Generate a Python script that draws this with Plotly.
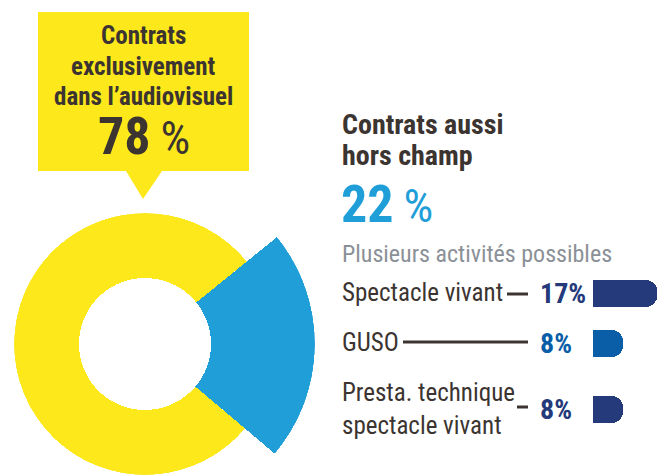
import math
import plotly.graph_objects as go

# ---- data ----
share_labels = ["Contrats exclusivement dans l’audiovisuel", "Contrats aussi hors champ"]
share_values = [78, 22]
activity_labels = ["Spectacle vivant", "GUSO", "Presta. technique<br>spectacle vivant"]
activity_values = [17, 8, 8]

# ---- styles ----
W, H = 658, 475
YELLOW = "#FCE81B"
BLUE = "#1F9ED8"
DARK = "#3B3431"
GREY = "#8B9097"
NAVY = "#243A7B"
MID_BLUE = "#0A5EA8"
activity_colors = [NAVY, MID_BLUE, NAVY]
FONT = "Roboto Condensed, Open Sans Condensed, Roboto, sans-serif"


def px(x):
    return x / W


def py(y):
    return 1 - y / H


# donut geometry (pixels)
cx, cy = 145, 344
r_in = 66
r_out_main = 131
r_out_blue = 170
start_deg = 39  # upper edge of the blue slice

w_blue = share_values[1] / sum(share_values) * 360
w_yel = share_values[0] / sum(share_values) * 360
theta_blue = start_deg - w_blue / 2
theta_yel = start_deg + w_yel / 2

fig = go.Figure()

fig.add_trace(go.Barpolar(
    r=[r_out_main - r_in], base=[r_in], theta=[theta_yel], width=[w_yel],
    marker=dict(color=YELLOW, line=dict(width=0)), subplot="polar",
    name=share_labels[0], hoverinfo="skip"))

fig.add_trace(go.Barpolar(
    r=[r_out_blue - r_in], base=[r_in], theta=[theta_blue], width=[w_blue],
    marker=dict(color=BLUE, line=dict(width=0)), subplot="polar2",
    name=share_labels[1], hoverinfo="skip"))

# horizontal bars (y axis is in page pixels)
row_y = [293.5, 343.5, 409.5]
fig.add_trace(go.Bar(
    x=activity_values, y=row_y, orientation="h", width=27,
    marker=dict(color=activity_colors, line=dict(width=0), cornerradius="48%"),
    hoverinfo="skip"))

half = 42
sect_h = 2 * math.sin(math.radians(half)) * r_out_blue

hidden_radial = dict(visible=False, showgrid=False, showline=False, showticklabels=False, ticks="")
hidden_ang = dict(visible=False, showgrid=False, showline=False, showticklabels=False, ticks="",
                  direction="counterclockwise", rotation=0)

fig.update_layout(
    width=W, height=H, margin=dict(l=0, r=0, t=0, b=0, autoexpand=False),
    paper_bgcolor="white", plot_bgcolor="rgba(0,0,0,0)", showlegend=False,
    polar=dict(domain=dict(x=[px(cx - r_out_main), px(cx + r_out_main)],
                           y=[py(cy + r_out_main), py(cy - r_out_main)]),
               bgcolor="rgba(0,0,0,0)",
               radialaxis=dict(range=[0, r_out_main], **hidden_radial),
               angularaxis=hidden_ang),
    polar2=dict(domain=dict(x=[px(cx), px(cx + r_out_blue)],
                            y=[py(cy + sect_h / 2), py(cy - sect_h / 2)]),
                sector=[-half, half],
                bgcolor="rgba(0,0,0,0)",
                radialaxis=dict(range=[0, r_out_blue], **hidden_radial),
                angularaxis=hidden_ang),
    xaxis=dict(domain=[px(593), 1], range=[0, 17.15], visible=False, fixedrange=True),
    yaxis=dict(domain=[0, 1], range=[H, 0], visible=False, fixedrange=True),
    bargap=0,
)

# callout box
x0, x1, y0, y1 = 38, 249, 12, 171
tip = (143, 199)
path = (f"M {px(x0)},{py(y0)} L {px(x1)},{py(y0)} L {px(x1)},{py(y1)} "
        f"L {px(162)},{py(y1)} L {px(tip[0])},{py(tip[1])} L {px(126)},{py(y1)} "
        f"L {px(x0)},{py(y1)} Z")
fig.add_shape(type="path", path=path, xref="paper", yref="paper",
              fillcolor=YELLOW, line=dict(width=0), layer="below")


def txt(x, y, s, size, color, bold=False, anchor="left"):
    fig.add_annotation(x=px(x), y=py(y), xref="paper", yref="paper", xanchor=anchor, yanchor="middle",
                       text=f"<b>{s}</b>" if bold else s, showarrow=False,
                       font=dict(family=FONT, size=size, color=color))


def big_pct(v, size):
    return f"<b>{v}</b>\u2009<span style='font-size:{int(size * 0.92)}px'>%</span>"


# box texts
txt(143.5, 36, "Contrats", 25, DARK, True, "center")
txt(143.5, 67, "exclusivement", 25, DARK, True, "center")
txt(143.5, 96, "dans l’audiovisuel", 25, DARK, True, "center")
txt(143.5, 137, big_pct(share_values[0], 52), 52, DARK, False, "center")

# right texts
txt(340, 125, "Contrats aussi", 28, DARK, True)
txt(340, 155, "hors champ", 28, DARK, True)
txt(339, 204, big_pct(share_values[1], 52), 52, BLUE, False)
txt(340, 254, "Plusieurs activités possibles", 24, GREY)

# activity labels, connectors, values
conn_x0 = [507, 403, 517]
conn_y = [294, 342, 407]
for i, (lab, val) in enumerate(zip(activity_labels, activity_values)):
    fig.add_annotation(x=px(340), y=py(row_y[i] - 1), xref="paper", yref="paper", xanchor="left",
                       yanchor="middle", text=lab, showarrow=False, align="left",
                       font=dict(family=FONT, size=25, color=DARK))
    fig.add_shape(type="line", xref="paper", yref="paper",
                  x0=px(conn_x0[i]), x1=px(528), y0=py(conn_y[i]), y1=py(conn_y[i]),
                  line=dict(color=DARK, width=3))
    txt(538, row_y[i], f"{val}%", 28, activity_colors[i], True)

fig.write_html("out.html", config={"displayModeBar": False, "staticPlot": True},
               post_script="document.body.style.margin='0';")
